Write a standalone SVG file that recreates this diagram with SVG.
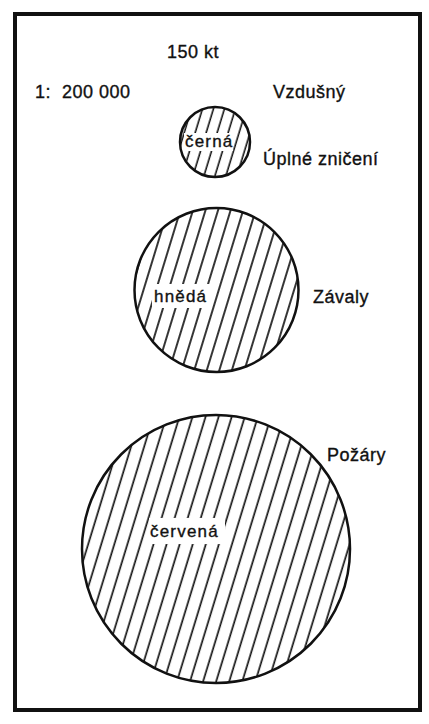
<svg xmlns="http://www.w3.org/2000/svg" width="429" height="724" viewBox="0 0 429 724">
<style>
text{font-family:"Liberation Sans",Arial,sans-serif;fill:#111;stroke:#111;stroke-width:0.35;}
.lbl{font-size:18px;letter-spacing:0.5px;}
.in{font-size:17px;letter-spacing:1.2px;}
.ring{fill:none;stroke:#111;stroke-width:2.5;}
.gap{fill:#fff;}
</style>
<defs>
<pattern id="hS" width="10.5" height="20" patternUnits="userSpaceOnUse" patternTransform="rotate(17)">
<line x1="5" y1="0" x2="5" y2="20" stroke="#111" stroke-width="1.6"/>
</pattern>
<pattern id="hM" width="12" height="20" patternUnits="userSpaceOnUse" patternTransform="rotate(17)">
<line x1="6" y1="0" x2="6" y2="20" stroke="#111" stroke-width="1.7"/>
</pattern>
<pattern id="hL" width="12.5" height="20" patternUnits="userSpaceOnUse" patternTransform="rotate(17)">
<line x1="6" y1="0" x2="6" y2="20" stroke="#111" stroke-width="1.7"/>
</pattern>
</defs>
<rect width="429" height="724" fill="#fff"/>
<rect x="15" y="14" width="405" height="696" fill="none" stroke="#111" stroke-width="4"/>
<g id="header">
<text class="lbl" x="167" y="58">150 kt</text>
<text class="lbl" x="35" y="98" letter-spacing="3">1:</text>
<text class="lbl" x="62" y="98">200 000</text>
<text class="lbl" x="273" y="98">Vzdušný</text>
</g>
<g id="small">
<circle cx="215" cy="142" r="35" fill="url(#hS)"/>
<rect class="gap" x="184" y="133" width="49" height="18"/>
<circle class="ring" cx="215" cy="142" r="35"/>
<text class="in" x="185" y="147">černá</text>
<text class="lbl" x="263" y="165">Úplné zničení</text>
</g>
<g id="medium">
<circle cx="216.5" cy="290" r="82" fill="url(#hM)"/>
<rect class="gap" x="152" y="284" width="60" height="24"/>
<circle class="ring" cx="216.5" cy="290" r="82"/>
<text class="in" x="154" y="302">hnědá</text>
<text class="lbl" x="313" y="303">Závaly</text>
</g>
<g id="large">
<circle cx="216" cy="549" r="134" fill="url(#hL)"/>
<rect class="gap" x="149" y="518" width="76" height="26"/>
<circle class="ring" cx="216" cy="549" r="134"/>
<text class="in" x="150" y="537">červená</text>
<text class="lbl" x="327" y="461">Požáry</text>
</g>
</svg>
